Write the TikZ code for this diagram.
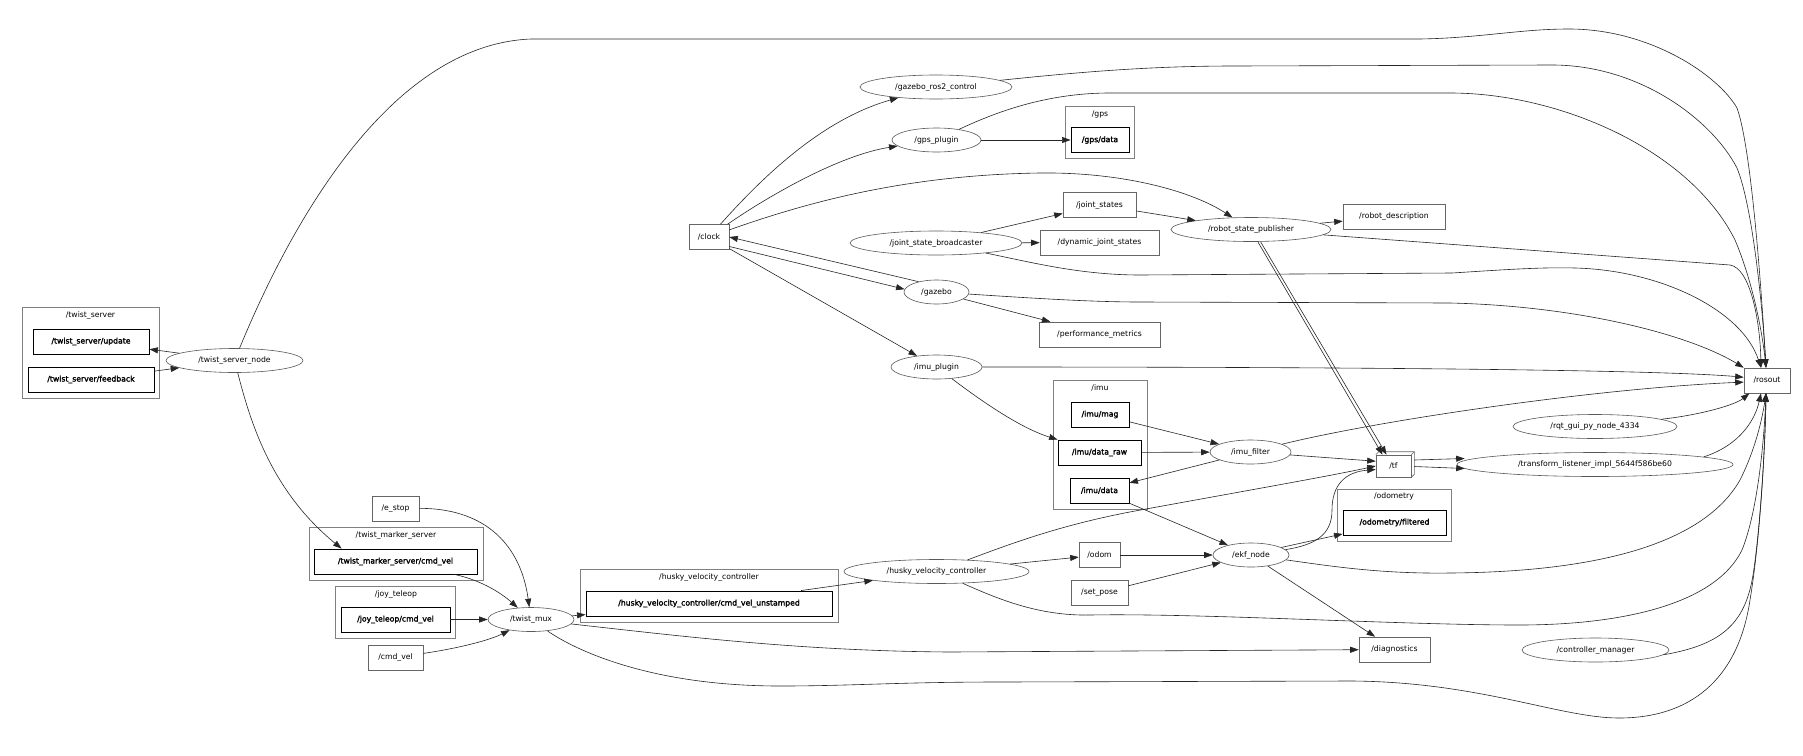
\documentclass[tikz,border=0pt]{standalone}
\usepackage{fontspec}
\setmainfont{DejaVu Sans}
\newfontfamily\rqtboldfam{DejaVu Sans}[FakeBold=2]
\newcommand\rqtfont{\fontsize{7.7}{9}\selectfont}
\newcommand\rqtbfont{\rqtboldfam\fontsize{7.7}{9}\selectfont}
\usetikzlibrary{arrows.meta,shapes.geometric}
\begin{document}
\begin{tikzpicture}[x=1pt,y=-1pt,
  topic/.style={draw=black!60, line width=0.6pt, rectangle, minimum height=25pt, inner sep=0pt, font=\rqtfont},
  btopic/.style={draw=black, line width=0.9pt, rectangle, minimum height=25pt, inner sep=0pt, font=\rqtbfont},
  rnode/.style={draw=black!65, line width=0.6pt, ellipse, minimum height=24pt, inner sep=0pt, font=\rqtfont},
  clus/.style={draw=black!50, line width=0.7pt},
  clab/.style={inner sep=0pt, font=\rqtfont},
  arr/.style={draw=black!85, line width=0.6pt, -{Triangle[length=8.5pt,width=6pt]}},
  tfside/.style={draw=black!60, line width=0.6pt}
]
\fill[white] (0,0) rectangle (1803,755);
\useasboundingbox (0,0) rectangle (1803,755);

% clusters
\draw[clus] (22,307) rectangle (159,398);   \node[clab] (lts)  at (90.5,315) {/twist\_server};
\draw[clus] (1065,106) rectangle (1134,158); \node[clab] (lgps) at (1100,114) {/gps};
\draw[clus] (1053,380) rectangle (1147,509); \node[clab] (limu) at (1100,388) {/imu};
\draw[clus] (1337,489) rectangle (1451,541); \node[clab] (lodo) at (1394,496) {/odometry};
\draw[clus] (309,527) rectangle (483,580);   \node[clab] (ltms) at (396,535) {/twist\_marker\_server};
\draw[clus] (335,586) rectangle (455,638);   \node[clab] (ljoy) at (396,594) {/joy\_teleop};
\draw[clus] (580,569) rectangle (838,622);   \node[clab] (lhvc) at (709,577) {/husky\_velocity\_controller};

% ellipse nodes
\node[rnode, minimum width=137pt] (tsn)   at (234.5,360.5) {/twist\_server\_node};
\node[rnode, minimum width=152pt] (gzr2c) at (936,87)  {/gazebo\_ros2\_control};
\node[rnode, minimum width=89pt]  (gpsp)  at (936.5,140) {/gps\_plugin};
\node[rnode, minimum width=172pt] (jsb)   at (936,243) {/joint\_state\_broadcaster};
\node[rnode, minimum width=65pt]  (gazebo) at (936.5,292) {/gazebo};
\node[rnode, minimum width=91pt]  (imup)  at (936.5,367) {/imu\_plugin};
\node[rnode, minimum width=160pt] (rsp)   at (1251,229.5) {/robot\_state\_publisher};
\node[rnode, minimum width=81pt]  (imuf)  at (1250.5,452) {/imu\_filter};
\node[rnode, minimum width=76pt]  (ekf)   at (1251,555) {/ekf\_node};
\node[rnode, minimum width=185pt] (hvc)   at (936.5,571.5) {/husky\_velocity\_controller};
\node[rnode, minimum width=164pt] (rqt)   at (1595,426.5) {/rqt\_gui\_py\_node\_4334};
\node[rnode, minimum width=276pt] (tl)    at (1595,464.5) {/transform\_listener\_impl\_5644f586be60};
\node[rnode, minimum width=147pt] (cm)    at (1595.5,650) {/controller\_manager};
\node[rnode, minimum width=86pt]  (mux)   at (531,619.5) {/twist\_mux};

% topic boxes
\node[btopic, minimum width=116pt] (tsupd) at (91,341.5) {/twist\_server/update};
\node[btopic, minimum width=126pt] (tsfb)  at (91,379.5) {/twist\_server/feedback};
\node[topic, minimum width=40pt]   (clock) at (709,237) {/clock};
\node[btopic, minimum width=58pt]  (gpsdata) at (1100,140) {/gps/data};
\node[topic, minimum width=73pt]   (js)    at (1099.5,205) {/joint\_states};
\node[topic, minimum width=119pt]  (djs)   at (1099.5,242.5) {/dynamic\_joint\_states};
\node[topic, minimum width=121pt]  (pm)    at (1099.5,334.5) {/performance\_metrics};
\node[topic, minimum width=102pt]  (rd)    at (1394,216.5) {/robot\_description};
\node[btopic, minimum width=58pt]  (imumag) at (1100,414.5) {/imu/mag};
\node[btopic, minimum width=83pt]  (imuraw) at (1099.5,452.5) {/imu/data\_raw};
\node[btopic, minimum width=59pt]  (imudata) at (1099.5,490.5) {/imu/data};
\node[topic, minimum width=41pt]   (odom)  at (1099.5,555) {/odom};
\node[topic, minimum width=57pt]   (setpose) at (1099.5,593) {/set\_pose};
\node[topic, minimum width=35pt, minimum height=22pt] (tf) at (1393.5,466) {/tf};
\node[btopic, minimum width=103pt] (odomf) at (1394.5,522.5) {/odometry/filtered};
\node[topic, minimum width=71pt]   (diag)  at (1394.5,649.5) {/diagnostics};
\node[topic, minimum width=46pt]   (rosout) at (1767,380.5) {/rosout};
\node[topic, minimum width=47pt]   (estop) at (395.5,508.5) {/e\_stop};
\node[btopic, minimum width=163pt] (tmcmd) at (395.5,561.5) {/twist\_marker\_server/cmd\_vel};
\node[btopic, minimum width=109pt] (joycmd) at (395.5,619.5) {/joy\_teleop/cmd\_vel};
\node[topic, minimum width=55pt]   (cmdvel) at (395.5,657.5) {/cmd\_vel};
\node[btopic, minimum width=246pt] (hvcunst) at (709,603.5) {/husky\_velocity\_controller/cmd\_vel\_unstamped};

% 3d sides of /tf
\draw[tfside] (tf.north west) -- ++(3,-3) -- ([xshift=3pt,yshift=3pt]tf.north east) -- ([xshift=3pt,yshift=3pt]tf.south east) -- (tf.south east);
\draw[tfside] (tf.north east) -- ++(3,-3);

% edges: twist server
\draw[arr] (tsn) -- (tsupd);
\draw[arr] (tsfb) -- (tsn);
\draw[arr] (tsn) .. controls (280,250) and (380,45) .. (531,39) -- (1420,39)
  .. controls (1480,38) and (1520,29) .. (1569,29)
  .. controls (1650,29) and (1718,75) .. (1737,108)
  .. controls (1752,150) and (1762,300) .. ([xshift=-1pt]rosout.north);
\draw[arr] (tsn) .. controls (250,420) and (270,490) .. ([xshift=28pt]tmcmd.north west);

% twist mux inputs
\draw[arr] (estop) .. controls (480,508) and (520,540) .. (mux);
\draw[arr] (tmcmd) .. controls (480,580) and (500,592) .. (mux);
\draw[arr] (joycmd) -- (mux);
\draw[arr] (cmdvel) .. controls (460,648) and (490,640) .. (mux);
\draw[arr] (mux) -- (hvcunst);
\draw[arr] (mux) .. controls (680,636) and (800,651) .. (950,652) -- (diag);
\draw[arr] (mux) .. controls (575,650) and (650,686) .. (780,686)
  .. controls (850,686) and (900,682) .. (1000,682) -- (1352,681)
  .. controls (1480,682) and (1560,718) .. (1619,718)
  .. controls (1690,718) and (1738,680) .. (1750,600)
  .. controls (1760,540) and (1765,450) .. ([xshift=-1pt]rosout.south);

% husky velocity controller
\draw[arr] (hvcunst) -- (hvc);
\draw[arr] (hvc) -- (odom);
\draw[arr] (hvc) .. controls (1010,544) and (1060,525) .. (1135,511)
  .. controls (1250,490) and (1330,476) .. (tf.west);
\draw[arr] (hvc) .. controls (1000,600) and (1040,616) .. (1090,615)
  .. controls (1200,613) and (1400,625) .. (1519,625)
  .. controls (1620,625) and (1715,605) .. (1742,550)
  .. controls (1758,510) and (1764,440) .. ([xshift=-1pt]rosout.south);

% clock
\draw[arr] (clock) .. controls (760,180) and (820,120) .. (gzr2c);
\draw[arr] (clock) .. controls (770,195) and (840,155) .. (gpsp);
\draw[arr] (clock) .. controls (800,205) and (900,175) .. (1040,173)
  .. controls (1120,172) and (1190,190) .. (rsp);
\draw[arr] (clock.-25) -- (gazebo.175);
\draw[arr] (gazebo.150) -- (clock.0);
\draw[arr] (clock) -- (imup);

% to rosout from the top group
\draw[arr] (gzr2c) .. controls (1080,72) and (1150,66) .. (1235,66) -- (1552,65)
  .. controls (1640,65) and (1712,120) .. (1737,168)
  .. controls (1752,205) and (1762,300) .. ([xshift=-1pt]rosout.north);
\draw[arr] (gpsp) .. controls (1000,110) and (1050,93) .. (1110,93) -- (1450,93)
  .. controls (1560,93) and (1690,150) .. (1735,240)
  .. controls (1752,280) and (1762,330) .. ([xshift=-1pt]rosout.north);
\draw[arr] (gpsp) -- (gpsdata);
\draw[arr] (jsb) -- (js);
\draw[arr] (jsb) -- (djs);
\draw[arr] (jsb) .. controls (1030,262) and (1080,275) .. (1140,275) -- (1452,273)
  .. controls (1500,270) and (1540,267) .. (1575,268)
  .. controls (1660,270) and (1742,310) .. ([xshift=-6pt]rosout.north);
\draw[arr] (js) -- (rsp);
\draw[arr] (rsp) -- (rd);
\draw[arr] (rsp) -- (1730,265) .. controls (1750,268) and (1760,320) .. ([xshift=-6pt]rosout.north);
\draw[arr] (rsp.-61) -- ([xshift=-11pt]tf.north);
\draw[arr] (rsp.-52) -- ([xshift=-7pt]tf.north);
\draw[arr] (gazebo) -- (pm);
\draw[arr] (gazebo) .. controls (1030,298) and (1090,302) .. (1140,302) -- (1450,303)
  .. controls (1580,306) and (1690,335) .. (rosout.north west);
\draw[arr] (imup) .. controls (1300,367) and (1650,369) .. (rosout.172);
\draw[arr] (imup) .. controls (980,400) and (1020,428) .. (imuraw.north west);

% imu
\draw[arr] (imumag) -- (imuf);
\draw[arr] (imuraw) -- (imuf);
\draw[arr] (imuf) -- (imudata);
\draw[arr] (imuf) -- (tf.165);
\draw[arr] (imuf) .. controls (1380,420) and (1600,388) .. (rosout.184);

% ekf
\draw[arr] (imudata) -- (ekf);
\draw[arr] (odom) -- (ekf);
\draw[arr] (setpose) -- (ekf);
\draw[arr] (ekf.14) -- ([yshift=1.5pt]odomf.south west);
\draw[arr] (ekf) .. controls (1315,545) and (1332,535) .. (1332,510)
  .. controls (1332,485) and (1345,472) .. (tf.191);
\draw[arr] (ekf) -- (diag);
\draw[arr] (ekf) .. controls (1330,566) and (1380,574) .. (1450,573)
  .. controls (1580,572) and (1700,550) .. (1740,480)
  .. controls (1755,450) and (1762,420) .. ([xshift=-1pt]rosout.south);

% tf and others
\draw[arr] ([xshift=3pt,yshift=6pt]tf.east) -- ([xshift=8pt,yshift=6pt]tl.west);
\draw[arr] ([xshift=3pt,yshift=-0.5pt]tf.east) -- ([xshift=8pt,yshift=-4pt]tl.west);
\draw[arr] (tl.4) .. controls (1740,445) and (1755,420) .. ([xshift=-6pt]rosout.south);
\draw[arr] (rqt) .. controls (1700,415) and (1735,405) .. (rosout.216);
\draw[arr] (cm.-4) .. controls (1720,645) and (1745,625) .. (1753,575)
  .. controls (1760,530) and (1765,450) .. ([xshift=-1pt]rosout.south);
\end{tikzpicture}
\end{document}
